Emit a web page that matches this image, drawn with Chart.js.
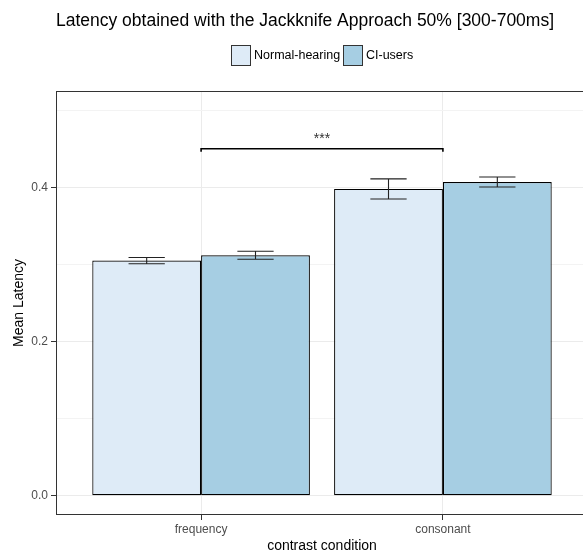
<!DOCTYPE html>
<html>
<head>
<meta charset="utf-8">
<script src="https://cdn.jsdelivr.net/npm/chart.js@4"></script>
<style>
  html, body { margin: 0; padding: 0; background: #fff; overflow: hidden; }
  #wrap { width: 610px; height: 556px; }
</style>
</head>
<body>
<div id="wrap"><canvas id="latencyChart" width="610" height="556"></canvas></div>
<script>
const titleText = 'Latency obtained with the Jackknife Approach 50% [300-700ms]';
const categories = ['frequency', 'consonant'];
const groups = ['Normal-hearing', 'CI-users'];
const groupColors = ['#deebf7', '#a6cee3'];

// mean latency and standard error per condition
const normalHearing = [0.305, 0.398];
const normalHearingSE = [0.0041, 0.013];
const ciUsers = [0.312, 0.407];
const ciUsersSE = [0.0052, 0.0065];

const yTicks = [0, 0.1, 0.2, 0.3, 0.4, 0.5];
const yLabelTicks = [0, 0.2, 0.4];

// significance bracket between the two conditions
const sigBracket = [0, 1];
const sigLevel = 0.45;
const sigLabel = '***';

const FONT = "'Liberation Sans', Arial, sans-serif";
const catPos = categories.map((c, i) => i + 1);
const means = [normalHearing, ciUsers];
const errors = [normalHearingSE, ciUsersSE];

const panelBorder = {
    id: 'panelBorder',
    afterDraw(chart) {
        const { ctx, chartArea: a } = chart;
        ctx.save();
        ctx.strokeStyle = '#333';
        ctx.lineWidth = 1;
        ctx.strokeRect(a.left + 0.5, a.top + 0.5, a.right - a.left - 1, a.bottom - a.top - 1);
        ctx.restore();
    }
};

const errorBars = {
    id: 'errorBars',
    afterDatasetsDraw(chart) {
        const { ctx, scales: { y } } = chart;
        ctx.save();
        ctx.strokeStyle = '#222';
        ctx.lineWidth = 1.1;
        chart.data.datasets.forEach((ds, i) => {
            chart.getDatasetMeta(i).data.forEach((bar, j) => {
                const v = ds.data[j].y;
                const e = ds.errors[j];
                const top = y.getPixelForValue(v + e);
                const bot = y.getPixelForValue(v - e);
                const half = bar.width / 6;
                ctx.beginPath();
                ctx.moveTo(bar.x - half, top);
                ctx.lineTo(bar.x + half, top);
                ctx.moveTo(bar.x, top);
                ctx.lineTo(bar.x, bot);
                ctx.moveTo(bar.x - half, bot);
                ctx.lineTo(bar.x + half, bot);
                ctx.stroke();
            });
        });
        ctx.restore();
    }
};

const signif = {
    id: 'signif',
    afterDatasetsDraw(chart) {
        const { ctx, scales: { x, y } } = chart;
        const x0 = x.getPixelForValue(catPos[sigBracket[0]]);
        const x1 = x.getPixelForValue(catPos[sigBracket[1]]);
        const yb = y.getPixelForValue(sigLevel);
        ctx.save();
        ctx.strokeStyle = '#000';
        ctx.lineWidth = 1.6;
        ctx.beginPath();
        ctx.moveTo(x0, yb + 3);
        ctx.lineTo(x0, yb);
        ctx.lineTo(x1, yb);
        ctx.lineTo(x1, yb + 3);
        ctx.stroke();
        ctx.fillStyle = '#333';
        ctx.font = `14px ${FONT}`;
        ctx.textAlign = 'center';
        ctx.textBaseline = 'alphabetic';
        ctx.fillText(sigLabel, (x0 + x1) / 2, yb - 6);
        ctx.restore();
    }
};

// title and legend above the panel
const header = {
    id: 'header',
    afterDraw(chart) {
        const { ctx, chartArea: a } = chart;
        ctx.save();
        ctx.fillStyle = '#000';
        ctx.font = `17.5px ${FONT}`;
        ctx.textAlign = 'center';
        ctx.textBaseline = 'middle';
        ctx.fillText(titleText, chart.width / 2, 21);

        ctx.font = `12.5px ${FONT}`;
        const box = 20, gap = 3;
        const widths = groups.map(g => ctx.measureText(g).width);
        const total = widths.reduce((s, w) => s + box + gap + w, 0) + gap * (groups.length - 1);
        let lx = Math.round((a.left + a.right) / 2 - total / 2);
        ctx.textAlign = 'left';
        groups.forEach((g, i) => {
            ctx.fillStyle = groupColors[i];
            ctx.fillRect(lx, 45, box, 21);
            ctx.strokeStyle = '#333';
            ctx.lineWidth = 1;
            ctx.strokeRect(lx + 0.5, 45.5, box - 1, 20);
            ctx.fillStyle = '#000';
            ctx.fillText(g, lx + box + gap, 56);
            lx = Math.round(lx + box + gap + widths[i] + gap);
        });
        ctx.restore();
    }
};

new Chart(document.getElementById('latencyChart'), {
    type: 'bar',
    data: {
        datasets: groups.map((g, i) => ({
            label: g,
            data: catPos.map((x, j) => ({ x: x, y: means[i][j] })),
            errors: errors[i],
            backgroundColor: groupColors[i],
            borderColor: '#000',
            borderWidth: 1.2,
            borderSkipped: false,
            categoryPercentage: 0.9,
            barPercentage: 1
        }))
    },
    options: {
        responsive: false,
        animation: false,
        layout: { padding: { top: 91, right: 22, left: 0, bottom: 0 } },
        plugins: {
            legend: { display: false },
            title: { display: false },
            tooltip: { enabled: false }
        },
        scales: {
            x: {
                type: 'linear',
                min: 0.4,
                max: 2.6,
                offset: false,
                bounds: 'data',
                afterBuildTicks: s => { s.ticks = catPos.map(v => ({ value: v })); },
                afterFit: s => { s.height = 41; },
                grid: { offset: false, color: '#ebebeb', tickColor: '#333', tickLength: 5 },
                border: { display: false },
                ticks: {
                    callback: (v, i) => categories[i],
                    color: '#4d4d4d',
                    font: { size: 12, family: FONT },
                    padding: 2,
                    maxRotation: 0,
                    autoSkip: false
                },
                title: {
                    display: true,
                    text: 'contrast condition',
                    color: '#000',
                    font: { size: 14, family: FONT },
                    padding: { top: 0, bottom: 1 }
                }
            },
            y: {
                min: -0.025,
                max: 0.525,
                bounds: 'data',
                afterBuildTicks: s => { s.ticks = yTicks.map(v => ({ value: v })); },
                afterFit: s => { s.width = 56; },
                grid: {
                    color: c => yLabelTicks.includes(c.tick.value) ? '#ebebeb' : '#f3f3f3',
                    tickColor: c => yLabelTicks.includes(c.tick.value) ? '#333' : 'rgba(0,0,0,0)',
                    tickLength: 5
                },
                border: { display: false },
                ticks: {
                    callback: v => yLabelTicks.includes(v) ? v.toFixed(1) : '',
                    color: '#4d4d4d',
                    font: { size: 12, family: FONT },
                    padding: 3
                },
                title: {
                    display: true,
                    text: 'Mean Latency',
                    color: '#000',
                    font: { size: 14, family: FONT },
                    padding: { top: 10.5, bottom: 0 }
                }
            }
        }
    },
    plugins: [panelBorder, errorBars, signif, header]
});
</script>
</body>
</html>
